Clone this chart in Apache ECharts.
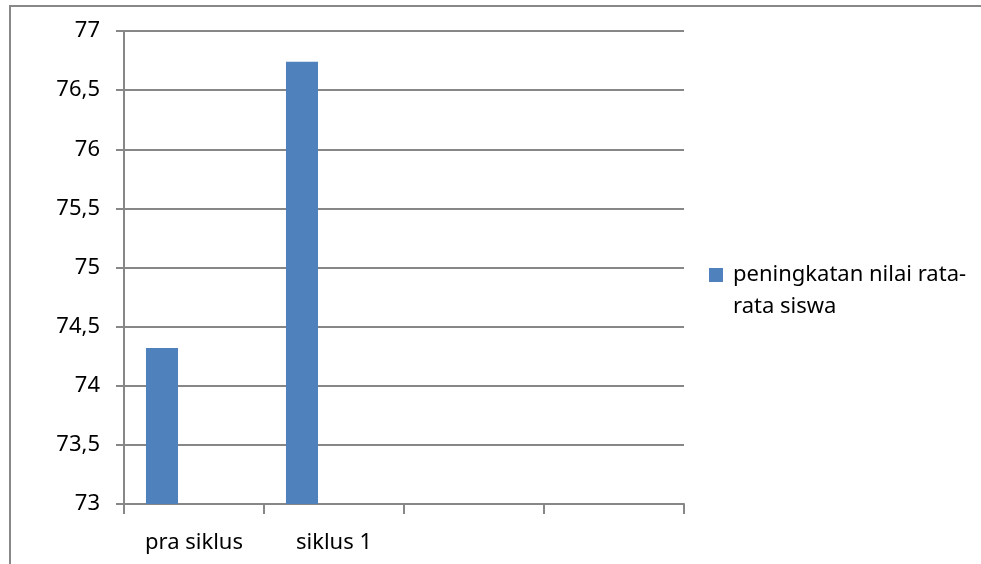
<!DOCTYPE html>
<html>
<head>
<meta charset="utf-8">
<script src="https://cdn.jsdelivr.net/npm/echarts@6/dist/echarts.min.js"></script>
<style>
  html, body { margin: 0; padding: 0; background: #fff; }
  #main { width: 981px; height: 564px; }
</style>
</head>
<body>
<div id="main"></div>
<script>
// data
var categories = ['pra siklus', 'siklus 1', '', '']
var seriesName = 'peningkatan nilai rata-rata siswa'
var nilai = [74.32, 76.74, null, null]
var empty = [null, null, null, null]
var yMin = 73
var yMax = 77
var yStep = 0.5

var gridColor = '#878787'
var font = 'Noto Sans'

var myChart = echarts.init(document.getElementById('main'))

var option = {
  backgroundColor: '#fff',
  animation: false,
  textStyle: { fontFamily: font },
  graphic: [
    {
      // outer chart frame: only left and top edges are inside the picture
      type: 'polyline',
      shape: { points: [[10, 700], [10, 6], [1200, 6]] },
      style: { fill: 'none', stroke: '#888', lineWidth: 2 },
      z: -1
    }
  ],
  grid: {
    left: 124,
    top: 31,
    right: 297,
    bottom: 60
  },
  legend: {
    data: [seriesName],
    left: 704,
    top: 222,
    orient: 'vertical',
    icon: 'rect',
    itemWidth: 14,
    itemHeight: 14,
    formatter: function () {
      // blank first line keeps the marker beside the first text line
      return '{a| }\n{a|peningkatan nilai rata-}\n{a|rata siswa}'
    },
    textStyle: {
      fontFamily: font,
      fontSize: 22,
      color: '#000',
      lineHeight: 32,
      rich: {
        a: {
          fontFamily: font,
          fontSize: 22,
          color: '#000',
          lineHeight: 32,
          padding: [0, 0, 0, 5]
        }
      }
    }
  },
  xAxis: {
    type: 'category',
    data: categories,
    axisLine: { lineStyle: { color: gridColor, width: 2 } },
    axisTick: { show: true, length: 10, lineStyle: { color: gridColor, width: 2 } },
    axisLabel: { color: '#000', fontSize: 22, margin: 28, fontFamily: font }
  },
  yAxis: {
    type: 'value',
    min: yMin,
    max: yMax,
    interval: yStep,
    axisLine: { show: true, lineStyle: { color: gridColor, width: 2 } },
    axisTick: { show: true, length: 8, lineStyle: { color: gridColor, width: 2 } },
    splitLine: { show: true, lineStyle: { color: gridColor, width: 2 } },
    axisLabel: {
      color: '#000',
      fontSize: 22,
      margin: 24,
      fontFamily: font,
      formatter: function (v) {
        return String(v).replace('.', ',')
      }
    }
  },
  series: [
    {
      name: seriesName,
      type: 'bar',
      data: nilai,
      barGap: '0%',
      barCategoryGap: '31.4%',
      itemStyle: { color: '#4F81BD' }
    },
    {
      name: 's2',
      type: 'bar',
      data: empty,
      barGap: '0%',
      barCategoryGap: '31.4%',
      itemStyle: { color: '#C0504D' }
    },
    {
      name: 's3',
      type: 'bar',
      data: empty,
      barGap: '0%',
      barCategoryGap: '31.4%',
      itemStyle: { color: '#9BBB59' }
    }
  ]
}

myChart.setOption(option)
</script>
</body>
</html>
